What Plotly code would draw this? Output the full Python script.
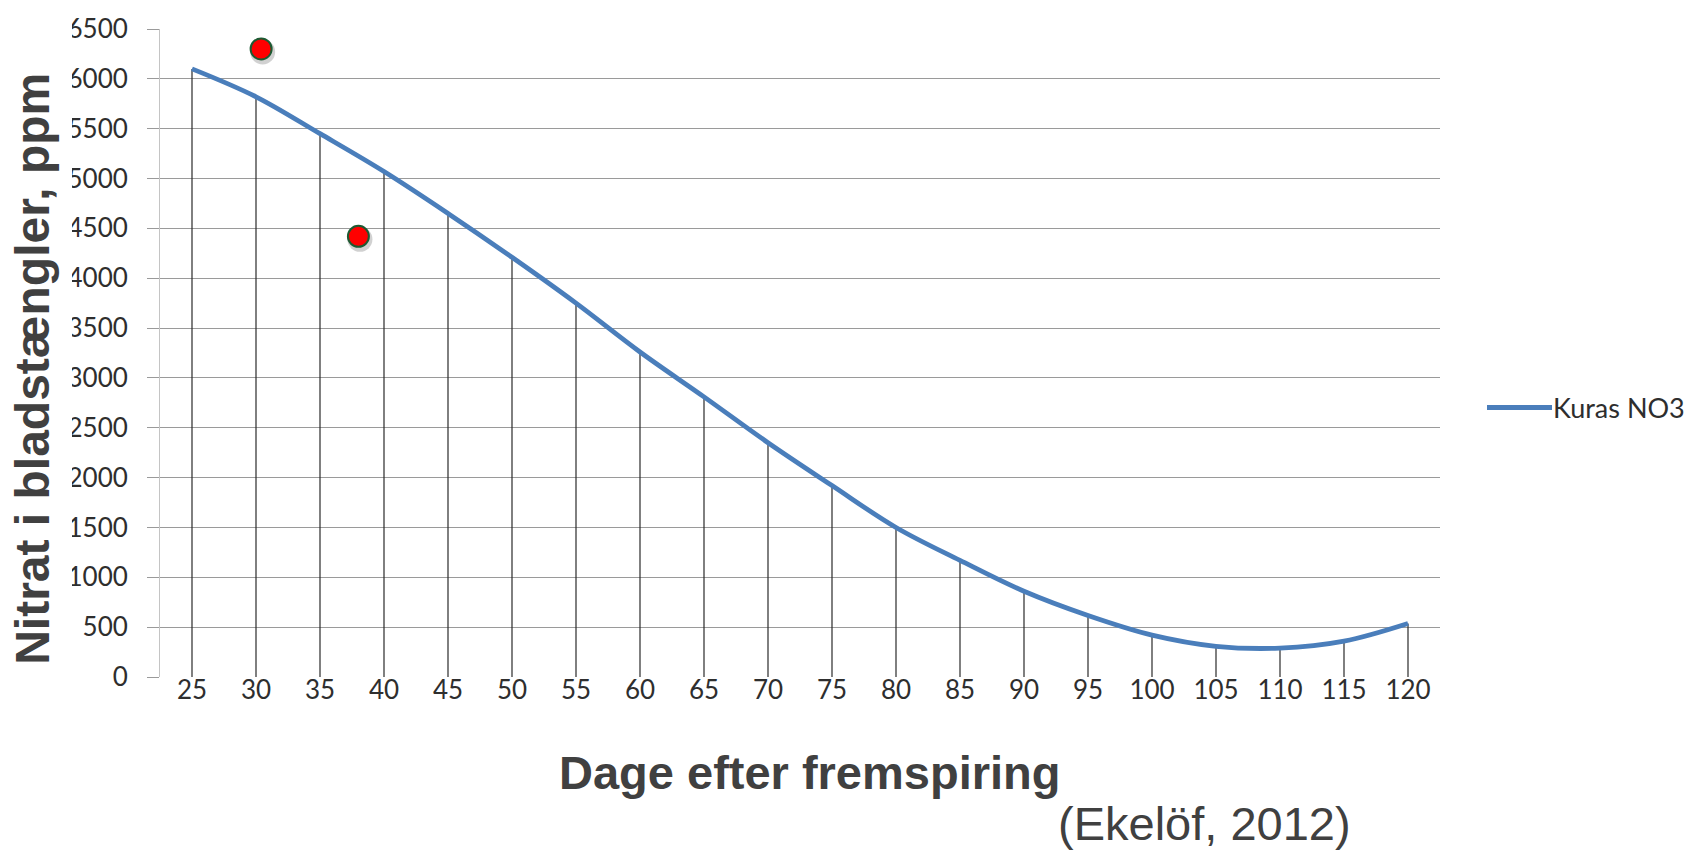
import plotly.graph_objects as go

# Nitrate content in leaf stalks over days after emergence
days = [25, 30, 35, 40, 45, 50, 55, 60, 65, 70, 75, 80, 85, 90, 95, 100, 105, 110, 115, 120]
nitrate = [6100, 5820, 5450, 5070, 4650, 4210, 3750, 3260, 2810, 2350,
           1920, 1500, 1170, 860, 617, 420, 308, 290, 360, 537]

# Measured samples marked on top of the curve
sample_days = [30.4, 38.0]
sample_nitrate = [6300, 4420]

y_ticks = list(range(0, 7000, 500))
series_name = "Kuras NO3"

W, H = 1706, 852
L, R, T, B = 160, 266, 23, 175
plot_w = W - L - R
plot_h = H - T - B


def px_x(px):
    return (px - L) / plot_w


def px_y(py):
    return (H - B - py) / plot_h


TEXT = "#404040"
TICK = "#2e2e2e"
fig = go.Figure()

# main curve with drop lines to the x axis
fig.add_trace(go.Scatter(
    x=days, y=nitrate, mode="lines", name=series_name,
    line=dict(color="#4a7ebb", width=4.8, shape="spline", smoothing=1.0),
    error_y=dict(type="data", symmetric=False, array=[0] * len(nitrate),
                 arrayminus=nitrate, color="#2a2a2a", thickness=1.2, width=0),
    showlegend=False,
))

# soft shadow beneath the sample markers
fig.add_trace(go.Scatter(
    x=[d + 0.12 for d in sample_days], y=[v - 30 for v in sample_nitrate],
    mode="markers", marker=dict(size=25, color="rgba(0,0,0,0.18)", line=dict(width=0)),
    showlegend=False, hoverinfo="skip",
))
fig.add_trace(go.Scatter(
    x=sample_days, y=sample_nitrate, mode="markers",
    marker=dict(size=21, color="#ff0000", line=dict(color="#1d5a32", width=2)),
    showlegend=False,
))

fig.update_layout(
    width=W, height=H,
    margin=dict(l=L, r=R, t=T, b=B, pad=0),
    paper_bgcolor="white", plot_bgcolor="white",
    font=dict(family="Lato, Liberation Sans, sans-serif", color=TEXT),
    xaxis=dict(
        range=[22.5, 122.5], tickmode="array", tickvals=days,
        ticktext=[str(d) for d in days],
        showgrid=False, zeroline=False, showline=False,
        ticks="", tickfont=dict(size=26, color=TICK),
        ticklabelstandoff=-5,
    ),
    yaxis=dict(
        range=[0, 6500], tickmode="array", tickvals=y_ticks,
        ticktext=[str(v) for v in y_ticks],
        showgrid=True, gridcolor="#9a9a9a", gridwidth=1,
        zeroline=False, showline=True, linecolor="#c4c4c4", linewidth=1,
        ticks="outside", ticklen=12, tickcolor="#9a9a9a", tickwidth=1,
        tickfont=dict(size=26, color=TICK),
        ticklabelstandoff=14,
    ),
)

# white band behind the vertical axis title
fig.add_shape(type="rect", xref="paper", yref="paper",
              x0=px_x(-5), x1=px_x(72), y0=px_y(H + 5), y1=px_y(-5),
              fillcolor="white", line=dict(width=0), layer="above")

fig.add_annotation(
    text="<b>Nitrat i bladstængler, ppm</b>", xref="paper", yref="paper",
    x=px_x(33), y=px_y(366), textangle=-90, showarrow=False,
    xanchor="center", yanchor="middle",
    font=dict(family="Liberation Sans, Arial, sans-serif", size=48, color=TEXT),
)
fig.add_annotation(
    text="<b>Dage efter fremspiring</b>", xref="paper", yref="paper",
    x=px_x(809), y=px_y(773), showarrow=False,
    xanchor="center", yanchor="middle",
    font=dict(family="Liberation Sans, Arial, sans-serif", size=47, color=TEXT),
)
fig.add_annotation(
    text="(Ekelöf, 2012)", xref="paper", yref="paper",
    x=px_x(1204), y=px_y(825), showarrow=False,
    xanchor="center", yanchor="middle",
    font=dict(family="Liberation Sans, Arial, sans-serif", size=47, color=TEXT),
)

# legend entry
fig.add_shape(type="line", xref="paper", yref="paper",
              x0=px_x(1487), x1=px_x(1552), y0=px_y(405), y1=px_y(405),
              line=dict(color="#4a7ebb", width=4.8))
fig.add_annotation(
    text=series_name, xref="paper", yref="paper",
    x=px_x(1551), y=px_y(405), showarrow=False,
    xanchor="left", yanchor="middle",
    font=dict(size=27, color=TICK),
)

fig.write_html("out.html")
